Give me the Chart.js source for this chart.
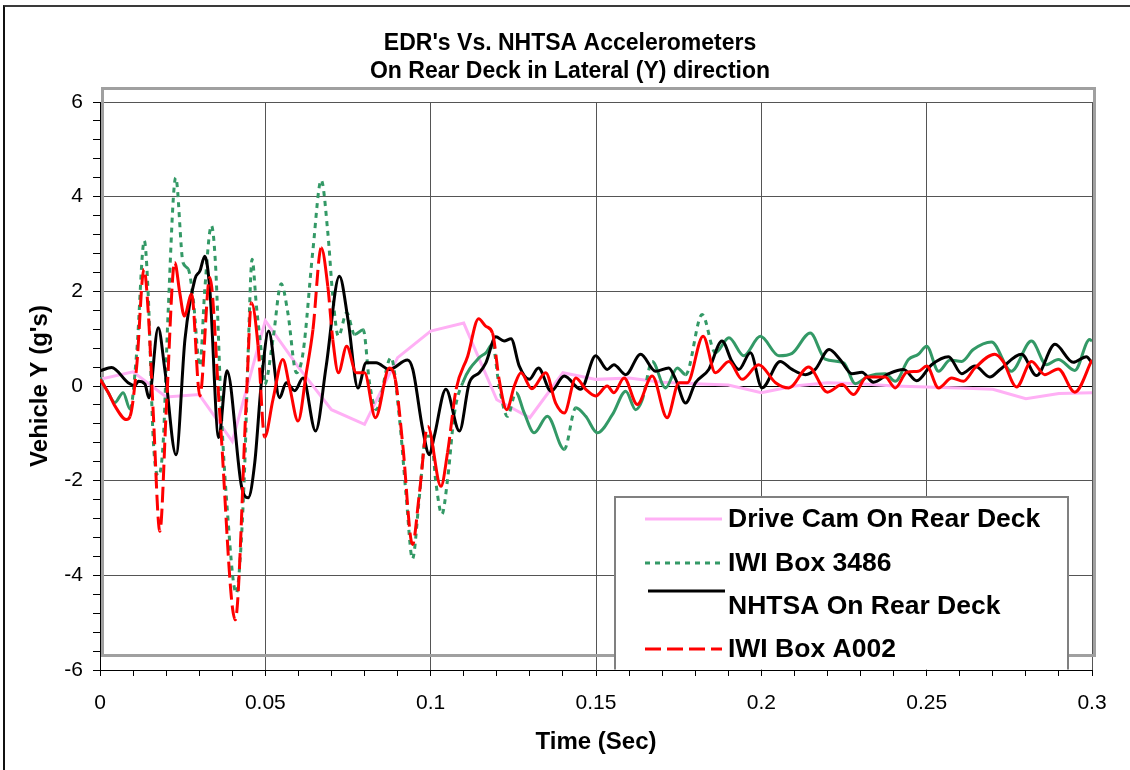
<!DOCTYPE html>
<html>
<head>
<meta charset="utf-8">
<script src="https://cdn.jsdelivr.net/npm/chart.js@4.4.1/dist/chart.umd.min.js"></script>
<style>
html,body{margin:0;padding:0;background:#fff;}
#wrap{position:relative;width:1130px;height:770px;overflow:hidden;background:#fff;}
#frame{position:absolute;left:3px;top:5px;width:1300px;height:900px;border-top:2px solid #3a3a3a;border-left:2px solid #111;box-sizing:border-box;}
canvas{position:absolute;left:0;top:0;}
</style>
</head>
<body>
<div id="wrap"><div id="frame"></div><canvas id="c" width="1130" height="770"></canvas></div>
<script>
// ---------- DATA ----------
const chartTitle = ["EDR's Vs. NHTSA Accelerometers", "On Rear Deck in Lateral (Y) direction"];
const xTitle = "Time (Sec)";
const yTitle = "Vehicle Y (g's)";
const seriesNames = ["Drive Cam On Rear Deck", "IWI Box 3486", "NHTSA On Rear Deck", "IWI Box A002"];

const driveCamT = [0,0.01,0.02,0.03,0.04,0.05,0.06,0.07,0.08,0.09,0.10,0.11,0.12,0.13,0.14,0.15,0.16,0.17,0.18,0.19,0.20,0.21,0.22,0.23,0.24,0.25,0.26,0.27,0.28,0.29,0.30];
const driveCamY = [0.14,0.30,-0.23,-0.18,-1.17,1.38,0.40,-0.50,-0.81,0.60,1.16,1.33,-0.29,-0.67,0.28,0.14,0.17,0.08,0.05,0.02,-0.14,0.00,0.07,0.05,0.00,-0.02,-0.04,-0.07,-0.27,-0.16,-0.14];

const iwi3486T = [0,0.0025,0.0045,0.0070,0.0091,0.0111,0.0134,0.0146,0.0161,0.0176,0.0191,0.0206,0.0229,0.0251,0.0267,0.0282,0.0302,0.0317,0.0337,0.0349,0.0367,0.0382,0.0412,0.0423,0.0438,0.0448,0.0460,0.0473,0.0488,0.0498,0.0523,0.0548,0.0568,0.0594,0.0614,0.0644,0.0669,0.0689,0.0704,0.0721,0.0746,0.0770,0.0796,0.0815,0.0835,0.0880,0.0906,0.0926,0.0945,0.0966,0.0986,0.1001,0.1016,0.1034,0.1051,0.1072,0.1097,0.1147,0.1167,0.1187,0.1207,0.1232,0.1258,0.1283,0.1313,0.1353,0.1404,0.1439,0.1469,0.1504,0.1550,0.1590,0.1620,0.1640,0.1670,0.1710,0.1746,0.1771,0.1821,0.1861,0.1902,0.1947,0.1997,0.2053,0.2093,0.2148,0.2193,0.2249,0.2284,0.2324,0.2375,0.2405,0.2445,0.2475,0.2500,0.2536,0.2571,0.2606,0.2641,0.2696,0.2756,0.2817,0.2862,0.2898,0.2948,0.2993,0.3000];
const iwi3486Y = [0.18,-0.14,-0.35,-0.14,-0.49,0.71,3.07,1.90,-1.13,-1.90,-1.20,1.55,4.40,2.61,2.47,1.83,0.42,2.05,3.39,2.61,-0.56,-2.33,-4.38,-3.74,-1.62,0.71,2.68,1.69,0.71,0.03,0.98,2.16,1.55,0.28,0.70,2.88,4.35,3.24,1.90,1.05,1.55,1.09,1.19,0.07,-0.50,0.60,-0.71,-2.33,-3.65,-2.33,-1.06,-1.06,-2.05,-2.71,-1.98,-0.57,0.07,0.60,0.70,0.88,0.00,-0.64,-0.14,-0.57,-0.99,-0.64,-1.34,-0.46,-0.64,-0.99,-0.60,-0.11,-0.50,-0.29,0.52,-0.04,0.38,0.24,1.51,0.70,1.02,0.64,1.05,0.64,0.69,1.12,0.57,0.49,0.05,0.21,0.26,0.10,0.56,0.67,0.84,0.31,0.55,0.52,0.77,0.93,0.31,0.95,0.45,0.56,0.33,0.98,0.95];

const nhtsaT = [0,0.0035,0.0085,0.0106,0.0116,0.0136,0.0148,0.0176,0.0196,0.0230,0.0257,0.0287,0.0302,0.0317,0.0332,0.0359,0.0384,0.0428,0.0448,0.0468,0.0488,0.0510,0.0543,0.0563,0.0589,0.0614,0.0652,0.0684,0.0724,0.0750,0.0780,0.0805,0.0835,0.0875,0.0930,0.0946,0.0976,0.0996,0.1011,0.1046,0.1087,0.1117,0.1147,0.1167,0.1197,0.1222,0.1243,0.1268,0.1298,0.1326,0.1364,0.1404,0.1454,0.1499,0.1534,0.1554,0.1590,0.1635,0.1680,0.1720,0.1741,0.1771,0.1801,0.1841,0.1881,0.1911,0.1932,0.1967,0.2002,0.2057,0.2093,0.2133,0.2163,0.2205,0.2238,0.2274,0.2304,0.2339,0.2385,0.2430,0.2470,0.2515,0.2566,0.2606,0.2646,0.2691,0.2722,0.2787,0.2832,0.2888,0.2943,0.2983,0.3000];
const nhtsaY = [0.32,0.39,0.07,0.01,0.10,0.04,-0.25,1.23,0.35,-1.45,0.99,2.26,2.43,2.74,2.05,-1.09,0.32,-2.12,-2.36,-1.62,0.07,1.16,-0.25,0.07,-0.10,0.17,-0.95,0.42,2.32,1.40,-0.04,0.49,0.49,0.35,0.55,0.35,-0.92,-1.45,-1.06,-0.07,-0.95,0.07,0.28,0.49,1.04,0.95,1.00,0.42,0.14,0.38,-0.11,0.21,-0.07,0.64,0.35,0.45,0.24,0.67,0.31,0.38,0.14,-0.36,0.07,0.35,0.95,0.52,0.35,0.70,-0.04,0.52,0.35,0.24,0.35,0.77,0.56,0.26,0.29,0.08,0.26,0.35,0.11,0.45,0.62,0.26,0.42,0.19,0.35,0.67,0.22,0.88,0.50,0.62,0.49];

const iwiA002T = [0,0.0025,0.0045,0.0080,0.0091,0.0111,0.0133,0.0146,0.0161,0.0181,0.0201,0.0226,0.0241,0.0255,0.0277,0.0302,0.0332,0.0362,0.0409,0.0443,0.0458,0.0478,0.0498,0.0523,0.0553,0.0573,0.0599,0.0624,0.0644,0.0669,0.0689,0.0704,0.0721,0.0746,0.0775,0.0800,0.0833,0.0875,0.0893,0.0916,0.0945,0.0966,0.0991,0.1031,0.1051,0.1077,0.1112,0.1145,0.1167,0.1187,0.1207,0.1230,0.1253,0.1273,0.1306,0.1348,0.1378,0.1404,0.1439,0.1469,0.1499,0.1534,0.1554,0.1585,0.1625,0.1670,0.1715,0.1751,0.1776,0.1824,0.1861,0.1902,0.1942,0.1992,0.2043,0.2083,0.2143,0.2200,0.2244,0.2279,0.2319,0.2375,0.2405,0.2440,0.2475,0.2500,0.2536,0.2576,0.2611,0.2646,0.2706,0.2731,0.2772,0.2817,0.2857,0.2898,0.2948,0.3000];
const iwiA002Y = [0.14,-0.14,-0.42,-0.71,-0.64,0.42,2.47,1.55,-0.56,-3.07,-0.42,2.61,1.98,1.48,1.94,-0.21,2.29,-0.56,-4.94,-0.21,1.76,0.85,-1.08,-0.29,0.56,0.00,-0.74,0.28,1.19,2.92,2.10,0.98,0.28,0.84,0.28,0.28,-0.67,0.38,0.14,-1.27,-3.35,-2.26,-0.85,-2.12,-1.41,-0.07,0.63,1.42,1.26,1.12,0.14,-0.50,0.00,0.28,-0.06,0.28,-0.36,-0.57,0.17,-0.07,-0.21,0.00,-0.14,0.17,-0.39,0.21,-0.67,0.07,0.07,1.05,0.28,0.52,0.14,0.45,0.07,-0.04,0.40,-0.13,0.03,-0.18,0.19,0.19,-0.04,0.29,0.31,0.42,-0.04,0.17,0.10,0.38,0.67,0.52,-0.02,0.52,0.24,0.36,-0.13,0.55];

const xMin = 0, xMax = 0.3, xStep = 0.01, xLabelEvery = 0.05;
const yMin = -6, yMax = 6, yStep = 0.4, yLabelEvery = 2;

// ---------- STYLE ----------
const FONT = '"Liberation Sans", Arial, sans-serif';
const colors = ['#ffb0f5', '#339966', '#000000', '#ff0000'];
const widths = [3, 3, 3, 3];
const dashes = [[], [5, 5], [], [16, 6]];
const steepThr = [Infinity, 2.5, Infinity, 7];

function pts(t, y) { return t.map((v, i) => ({ x: v, y: y[i] })); }
function isMult(v, m) { const r = v / m; return Math.abs(r - Math.round(r)) < 1e-6; }
function steepDash(i) {
  return ctx => {
    const dx = Math.abs(ctx.p1.x - ctx.p0.x) || 0.001;
    const dy = Math.abs(ctx.p1.y - ctx.p0.y);
    return dy / dx > steepThr[i] ? dashes[i] : [];
  };
}

const seriesData = [pts(driveCamT, driveCamY), pts(iwi3486T, iwi3486Y), pts(nhtsaT, nhtsaY), pts(iwiA002T, iwiA002Y)];
const datasets = seriesData.map((d, i) => ({
  label: seriesNames[i],
  data: d,
  borderColor: colors[i],
  backgroundColor: colors[i],
  borderWidth: widths[i],
  borderDash: [],
  pointRadius: 0,
  pointHoverRadius: 0,
  tension: 0,
  cubicInterpolationMode: i === 0 ? 'default' : 'monotone',
  order: 4 - i,
  segment: i === 0 ? undefined : { borderDash: steepDash(i) },
  yAxisID: 'y'
}));

// gray plot frame (offset, as in the original)
const framePlugin = {
  id: 'plotFrame',
  beforeDatasetsDraw(chart) {
    const { ctx, chartArea: ca } = chart;
    ctx.save();
    ctx.strokeStyle = '#a0a0a0';
    ctx.lineWidth = 3;
    ctx.strokeRect(ca.left + 2.5, ca.top - 13.5, ca.right - ca.left, ca.bottom - ca.top - 1);
    ctx.restore();
  }
};

// boxed legend inside the plot
const legendPlugin = {
  id: 'boxLegend',
  afterDraw(chart) {
    const { ctx, chartArea: ca } = chart;
    const L = ca.right - 477, R = ca.right - 24, T = ca.top + 395, B = ca.bottom - 0.5;
    ctx.save();
    ctx.fillStyle = '#fff';
    ctx.fillRect(L, T, R - L, B - T);
    ctx.strokeStyle = '#808080';
    ctx.lineWidth = 2;
    ctx.beginPath();
    ctx.moveTo(L, B); ctx.lineTo(L, T); ctx.lineTo(R, T); ctx.lineTo(R, B);
    ctx.stroke();
    const lineY = [22, 66, 94, 152];
    const textY = [22.5, 67, 110, 153];
    const lineX0 = [30, 30, 33, 30];
    chart.data.datasets.forEach((ds, i) => {
      ctx.strokeStyle = ds.borderColor;
      ctx.lineWidth = ds.borderWidth;
      ctx.setLineDash(dashes[i]);
      ctx.beginPath();
      ctx.moveTo(L + lineX0[i], T + lineY[i]);
      ctx.lineTo(L + lineX0[i] + 77, T + lineY[i]);
      ctx.stroke();
      ctx.setLineDash([]);
      ctx.fillStyle = '#000';
      ctx.font = 'bold 26.5px ' + FONT;
      ctx.textAlign = 'left';
      ctx.textBaseline = 'middle';
      ctx.fillText(ds.label, L + 113, T + textY[i]);
    });
    ctx.restore();
  }
};

Chart.defaults.font.family = FONT;
Chart.defaults.color = '#000';

new Chart(document.getElementById('c'), {
  type: 'line',
  data: { datasets },
  options: {
    responsive: false,
    animation: false,
    events: [],
    layout: { padding: { left: 10, right: 0, top: 0, bottom: 0 } },
    plugins: {
      legend: { display: false },
      tooltip: { enabled: false },
      title: {
        display: true,
        text: chartTitle,
        color: '#000',
        font: { size: 23, weight: 'bold', lineHeight: 28 / 23 },
        padding: { top: 30, bottom: 16 }
      }
    },
    scales: {
      x: {
        type: 'linear',
        min: xMin, max: xMax,
        afterFit(s) { s.height = 100; },
        ticks: {
          stepSize: xStep,
          autoSkip: false,
          maxTicksLimit: 200,
          maxRotation: 0, minRotation: 0,
          padding: 15,
          font: { size: 21 },
          color: '#000',
          callback: v => isMult(v, xLabelEvery) ? String(+v.toFixed(2)) : ''
        },
        grid: {
          color: c => (c.tick && isMult(c.tick.value, xLabelEvery)) ? '#555' : 'rgba(0,0,0,0)',
          tickColor: '#000',
          tickLength: 6,
          lineWidth: 1
        },
        border: { color: '#000', width: 1 },
        title: {
          display: true, text: xTitle, color: '#000',
          font: { size: 24, weight: 'bold' },
          padding: { top: 0, bottom: 13.6 }
        }
      },
      y: {
        type: 'linear',
        position: 'left',
        min: yMin, max: yMax,
        afterFit(s) { s.width = 90; },
        ticks: {
          stepSize: yStep,
          autoSkip: false,
          maxTicksLimit: 200,
          padding: 10,
          font: { size: 21 },
          color: '#000',
          callback: v => isMult(v, yLabelEvery) ? String(Math.round(v)) : ''
        },
        grid: {
          color: c => (c.tick && isMult(c.tick.value, yLabelEvery)) ? (Math.abs(c.tick.value) < 1e-6 ? '#000' : '#555') : 'rgba(0,0,0,0)',
          tickColor: '#000',
          tickLength: 7,
          lineWidth: 1
        },
        border: { color: '#000', width: 1 },
        title: {
          display: true, text: yTitle, color: '#000',
          font: { size: 24, weight: 'bold' },
          padding: { top: 15.6, bottom: 0 }
        }
      },
      yR: {
        type: 'linear',
        position: 'right',
        display: true,
        afterFit(s) { s.width = 38; },
        ticks: { display: false },
        grid: { display: false, drawTicks: false },
        border: { display: false }
      }
    }
  },
  plugins: [framePlugin, legendPlugin]
});
</script>
</body>
</html>
